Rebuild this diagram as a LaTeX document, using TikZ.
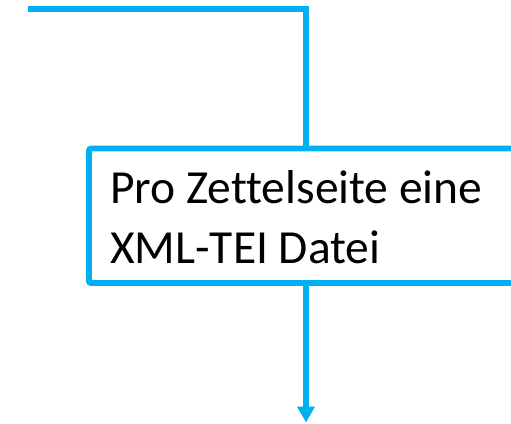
\documentclass[tikz,border=0pt]{standalone}
\usepackage{fontspec}
\setmainfont{Carlito}[Ligatures=NoCommon]
\usetikzlibrary{arrows.meta}
\definecolor{flowblue}{HTML}{00B0F0}
\begin{document}
\begin{tikzpicture}[x=1pt,y=-1pt,
  flowline/.style={draw=flowblue,line width=5.8pt},
  procbox/.style={draw=flowblue,line width=5.8pt,rounded corners=2pt,fill=white,
    minimum width=471pt,minimum height=134.5pt,inner sep=0pt,outer sep=0pt},
  flowarrow/.style={flowline,-{Triangle[width=17pt,length=16pt]}}]
\useasboundingbox (0,0) rectangle (511,423);
\clip (0,0) rectangle (511,423);
\coordinate (start) at (28,9);
\coordinate (endpt) at (306,422.5);
\node[procbox,anchor=north west] (box) at (89,148.5) {};
\node[anchor=base west,align=left,inner sep=0pt,font=\fontsize{47.5pt}{60pt}\selectfont] (txt) at (110,263) {Pro Zettelseite eine\\XML-TEI Datei};
\draw[flowline] (start) -| (box.north -| endpt);
\draw[flowarrow] (box.south -| endpt) -- (endpt);
\end{tikzpicture}
\end{document}
